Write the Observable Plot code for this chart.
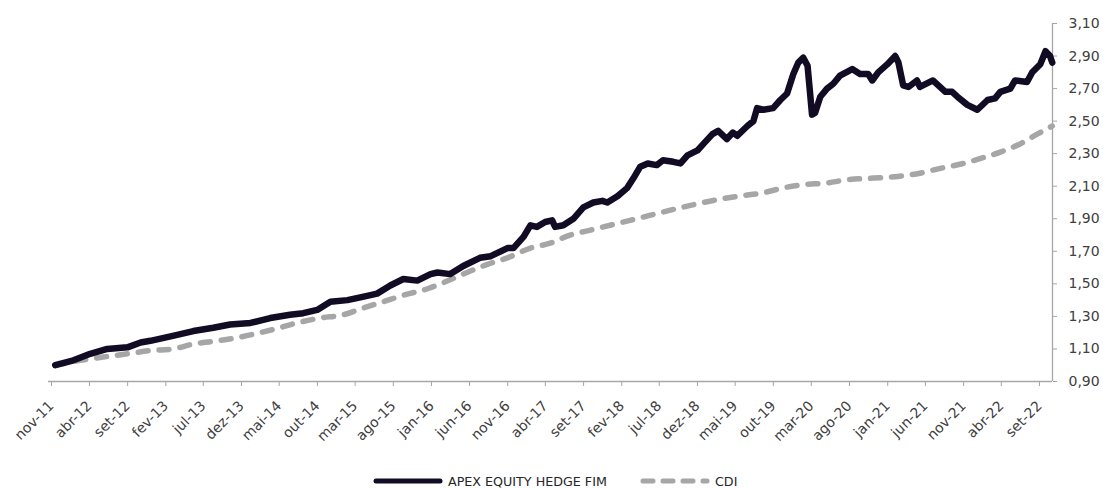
<!DOCTYPE html>
<html>
<head>
<meta charset="utf-8">
<script src="https://cdn.jsdelivr.net/npm/d3@7"></script>
<script src="https://cdn.jsdelivr.net/npm/@observablehq/plot@0.6"></script>
<style>
  html, body { margin: 0; padding: 0; background: #fff; }
  #chart svg { display: block; }
  #legend { position: relative; height: 18px; font-family: "DejaVu Sans", sans-serif; font-size: 12.7px; color: #262626; }
  .item { position: absolute; top: 0; height: 18px; display: flex; align-items: center; }
  .item svg { display: block; margin-right: 5px; }
</style>
</head>
<body>
<div id="chart"></div>
<div id="legend"></div>
<script>
// ---- data ----
const seriesNames = ["APEX EQUITY HEDGE FIM", "CDI"];

const apexDates = ["2011-11-28","2012-02-09","2012-04-16","2012-06-23","2012-09-12","2012-11-04","2012-12-13","2013-03-13","2013-06-03","2013-08-22","2013-10-28","2014-01-18","2014-04-07","2014-06-25","2014-08-17","2014-10-12","2014-12-04","2015-02-10","2015-04-12","2015-06-09","2015-08-01","2015-09-22","2015-11-17","2016-01-09","2016-02-06","2016-03-28","2016-05-19","2016-07-25","2016-09-06","2016-11-12","2016-12-06","2017-01-16","2017-02-12","2017-03-10","2017-04-12","2017-05-10","2017-05-22","2017-06-24","2017-08-03","2017-09-12","2017-10-22","2017-11-27","2017-12-17","2018-01-28","2018-03-07","2018-04-01","2018-04-28","2018-05-28","2018-07-03","2018-07-28","2018-09-07","2018-10-06","2018-11-03","2018-12-13","2019-01-06","2019-02-11","2019-03-06","2019-04-10","2019-05-04","2019-05-21","2019-07-01","2019-07-25","2019-08-09","2019-09-03","2019-10-12","2019-11-10","2019-12-07","2020-01-01","2020-01-21","2020-02-10","2020-02-27","2020-03-16","2020-03-28","2020-04-18","2020-05-15","2020-06-09","2020-07-06","2020-08-24","2020-09-24","2020-10-27","2020-11-12","2020-12-06","2021-01-12","2021-02-12","2021-02-25","2021-03-16","2021-04-06","2021-05-10","2021-05-22","2021-07-13","2021-09-01","2021-09-28","2021-10-19","2021-11-28","2022-01-07","2022-02-17","2022-03-19","2022-04-09","2022-05-19","2022-06-07","2022-07-25","2022-08-15","2022-09-16","2022-10-07","2022-10-25","2022-11-03"];
const apexValues = [1.00,1.03,1.07,1.10,1.11,1.14,1.15,1.18,1.21,1.23,1.25,1.26,1.29,1.31,1.32,1.34,1.39,1.40,1.42,1.44,1.49,1.53,1.52,1.56,1.57,1.56,1.61,1.66,1.67,1.72,1.72,1.79,1.86,1.85,1.88,1.89,1.85,1.86,1.90,1.97,2.00,2.01,2.00,2.04,2.09,2.15,2.22,2.24,2.23,2.26,2.25,2.24,2.29,2.32,2.36,2.42,2.44,2.39,2.43,2.41,2.47,2.50,2.58,2.57,2.58,2.63,2.67,2.79,2.86,2.89,2.84,2.54,2.55,2.65,2.70,2.73,2.78,2.82,2.79,2.79,2.75,2.80,2.85,2.90,2.86,2.72,2.71,2.75,2.71,2.75,2.68,2.68,2.65,2.60,2.57,2.63,2.64,2.68,2.70,2.75,2.74,2.80,2.85,2.93,2.90,2.86];

const cdiDates = ["2011-11-28","2012-03-07","2012-06-07","2012-09-12","2012-12-13","2013-03-13","2013-06-03","2013-09-07","2013-11-27","2014-04-19","2014-07-24","2014-10-24","2015-01-25","2015-04-12","2015-07-03","2015-09-22","2015-12-28","2016-02-18","2016-05-19","2016-08-24","2016-11-12","2017-02-12","2017-05-02","2017-07-21","2017-10-10","2017-12-28","2018-03-18","2018-09-15","2019-03-13","2019-06-02","2019-09-03","2019-11-22","2020-02-10","2020-05-15","2020-08-04","2020-11-17","2021-02-22","2021-05-22","2021-08-12","2021-11-12","2022-01-18","2022-04-09","2022-06-27","2022-09-04","2022-11-03"];
const cdiValues = [1.00,1.03,1.05,1.07,1.09,1.10,1.13,1.15,1.17,1.22,1.26,1.29,1.31,1.35,1.39,1.43,1.47,1.50,1.56,1.62,1.66,1.72,1.75,1.80,1.83,1.86,1.89,1.96,2.02,2.04,2.06,2.09,2.11,2.12,2.14,2.15,2.16,2.18,2.21,2.24,2.27,2.31,2.36,2.42,2.47];

const xTickLabels = ["nov-11","abr-12","set-12","fev-13","jul-13","dez-13","mai-14","out-14","mar-15","ago-15","jan-16","jun-16","nov-16","abr-17","set-17","fev-18","jul-18","dez-18","mai-19","out-19","mar-20","ago-20","jan-21","jun-21","nov-21","abr-22","set-22"];
const yTicks = [0.90,1.10,1.30,1.50,1.70,1.90,2.10,2.30,2.50,2.70,2.90,3.10];
const xDomain = ["2011-11-01","2022-11-04"];

// ---- build tables ----
const monthsPt = ["jan","fev","mar","abr","mai","jun","jul","ago","set","out","nov","dez"];
const parseLabel = s => { const [m, y] = s.split("-"); return new Date(Date.UTC(2000 + +y, monthsPt.indexOf(m), 1)); };
const xTickDates = xTickLabels.map(parseLabel);
const labelByTime = new Map(xTickDates.map((d, i) => [+d, xTickLabels[i]]));
const apex = apexDates.map((d, i) => ({date: new Date(d), value: apexValues[i]}));
const cdi = cdiDates.map((d, i) => ({date: new Date(d), value: cdiValues[i]}));
const xDom = xDomain.map(d => new Date(d));

const colApex = "#120b24";
const colCdi = "#a6a6a6";
const axisCol = "#a6a6a6";
const textCol = "#404040";

const chart = Plot.plot({
  width: 1103,
  height: 472,
  marginLeft: 48,
  marginRight: 51,
  marginTop: 23,
  marginBottom: 91,
  style: {fontFamily: "DejaVu Sans, sans-serif", fontSize: "14px", background: "#fff", color: textCol},
  x: {type: "utc", domain: xDom},
  y: {domain: [0.9, 3.1]},
  marks: [
    Plot.ruleY([0.9], {stroke: axisCol, strokeWidth: 1.3}),
    Plot.ruleX([xDom[1]], {stroke: axisCol, strokeWidth: 1.3}),
    Plot.axisX({ticks: xTickDates, tickFormat: d => labelByTime.get(+d), tickRotate: -45, tickSize: 5, tickPadding: 17, dx: 3, stroke: axisCol, fill: textCol, label: null}),
    Plot.axisY({anchor: "right", ticks: yTicks, tickFormat: d => d.toFixed(2).replace(".", ","), tickSize: 4, tickPadding: 12, stroke: axisCol, fill: textCol, label: null}),
    Plot.line(cdi, {x: "date", y: "value", stroke: colCdi, strokeWidth: 5.5, strokeDasharray: "10,11", strokeLinecap: "round", curve: "monotone-x"}),
    Plot.line(apex, {x: "date", y: "value", stroke: colApex, strokeWidth: 6.5, strokeLinejoin: "round", strokeLinecap: "round"})
  ]
});
document.getElementById("chart").appendChild(chart);

// ---- legend ----
const legend = document.getElementById("legend");
const items = [
  {name: seriesNames[0], color: colApex, dash: null, left: 373},
  {name: seriesNames[1], color: colCdi, dash: "10,10", left: 640}
];
for (const it of items) {
  const div = document.createElement("div");
  div.className = "item";
  div.style.left = it.left + "px";
  div.innerHTML = `<svg width="70" height="10"><line x1="3" y1="5" x2="67" y2="5" stroke="${it.color}" stroke-width="5" stroke-linecap="round" ${it.dash ? `stroke-dasharray="${it.dash}"` : ""}/></svg><span>${it.name}</span>`;
  legend.appendChild(div);
}
</script>
</body>
</html>
